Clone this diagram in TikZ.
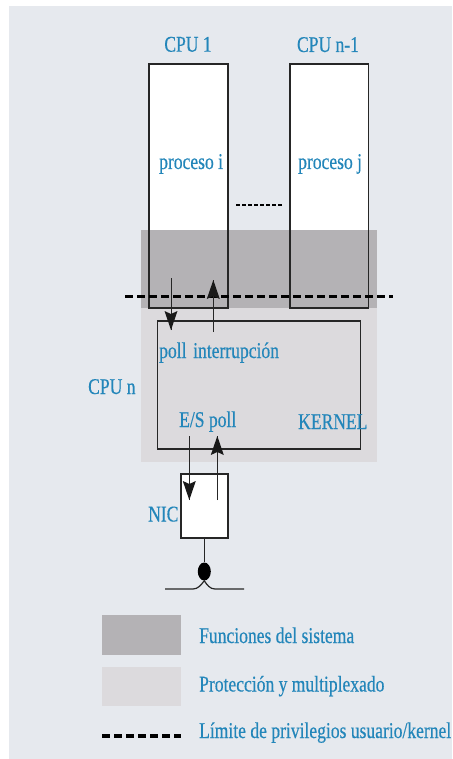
\documentclass[tikz,border=0pt]{standalone}
\usepackage{fontspec}
\setmainfont[FakeStretch=0.78,FakeBold=0.4]{Liberation Serif}
\usetikzlibrary{shapes.geometric}
\definecolor{bgc}{HTML}{E6E9EE}
\definecolor{darkg}{HTML}{B4B2B5}
\definecolor{lightg}{HTML}{DCDADD}
\definecolor{txt}{HTML}{2386BA}
\tikzset{
  lbl/.style={text=txt, inner sep=0pt, anchor=base west, font=\fontsize{22.5}{24}\selectfont},
  clbl/.style={lbl, anchor=base},
  boxn/.style={draw=black!85, line width=1.2pt, inner sep=0pt},
  arr/.style={draw=black!85, line width=1pt},
  headf/.style={fill=black!90},
  kdash/.style={line width=3.2pt, dash pattern=on 8pt off 4pt}}
\begin{document}
\begin{tikzpicture}[x=1pt,y=-1pt]
\useasboundingbox (0,0) rectangle (452,759);
\fill[bgc] (9,6) rectangle (452,759);
% white process boxes
\fill[white] (149,64) rectangle (228,308);
\fill[white] (290,64) rectangle (368.5,308);
\fill[white] (181,474) rectangle (228,538);
% shaded regions
\fill[lightg] (141,230) rectangle (377,462);
\fill[darkg] (141,230) rectangle (377,308);
% boxes
\node[boxn, minimum width=79pt, minimum height=244pt] (cpu1) at (188.5,186) {};
\node[boxn, minimum width=78.5pt, minimum height=244pt] (cpun1) at (329.25,186) {};
\node[boxn, minimum width=203.5pt, minimum height=128pt] (kernel) at (259,385) {};
\node[boxn, minimum width=47pt, minimum height=64pt] (nic) at (204.5,506) {};
% labels
\node[clbl] (l1) at (188,51.7) {CPU 1};
\node[clbl] (l2) at (328,52) {CPU n-1};
\node[lbl] (pi) at (159,169) {proceso i};
\node[lbl] (pj) at (298,169) {proceso j};
\node[lbl] (poll1) at (159,358) {poll};
\node[lbl] (intr) at (193,358) {interrupción};
\node[lbl] (cpun) at (88,394) {CPU n};
\node[lbl] (es) at (179,427) {E/S poll};
\node[lbl] (kl) at (298,429) {KERNEL};
\node[lbl] (nicl) at (148,521.5) {NIC};
% dotted ellipsis
\coordinate (d1) at (236,205);
\coordinate (d2) at (283,205);
\draw[line width=2.6pt, dash pattern=on 3.8pt off 2.2pt] (d1) -- (d2);
% privilege line
\coordinate (k1) at (125,296.7);
\coordinate (k2) at (393,296.7);
\draw[kdash] (k1) -- (k2);
% arrows upper
\coordinate (a1s) at (171,278);
\coordinate (a1e) at (171,330);
\coordinate (a2s) at (213.3,332);
\coordinate (a2e) at (213.3,280);
\draw[arr] (a1s) -- (a1e);
\fill[headf] (a1e) ++(-6.5,-19) -- (a1e) -- ++(6.5,-19) -- ++(-6.5,3) -- cycle;
\draw[arr] (a2s) -- (a2e);
\fill[headf] (a2e) ++(-6.5,19) -- (a2e) -- ++(6.5,19) -- ++(-6.5,-3) -- cycle;
% arrows lower
\coordinate (b1s) at (189.3,436);
\coordinate (b1e) at (189.3,500);
\coordinate (b2s) at (217.3,500);
\coordinate (b2e) at (217.3,436);
\draw[arr] (b1s) -- (b1e);
\fill[headf] (b1e) ++(-6.5,-19) -- (b1e) -- ++(6.5,-19) -- ++(-6.5,3) -- cycle;
\draw[arr] (b2s) -- (b2e);
\fill[headf] (b2e) ++(-6.5,19) -- (b2e) -- ++(6.5,19) -- ++(-6.5,-3) -- cycle;
% network
\node[fill=black, ellipse, minimum width=13pt, minimum height=18pt, inner sep=0pt] (tap) at (204.3,571.5) {};
\draw[black!85, line width=1.2pt] (nic.south -| tap) -- (tap.north);
\coordinate (w1) at (165,589);
\coordinate (w2) at (244,589);
\draw[black!85, line width=1.2pt] (w1) -- (193,589) .. controls (198,589) and (201,585) .. (tap.south) .. controls (207,585) and (210,589) .. (215,589) -- (w2);
% legend
\fill[darkg] (102,615) rectangle (181,655);
\fill[lightg] (102,667) rectangle (181,706);
\coordinate (ld1) at (102,736);
\coordinate (ld2) at (181,736);
\draw[kdash] (ld1) -- (ld2);
\node[lbl] (lg1) at (199,643) {Funciones del sistema};
\node[lbl] (lg2) at (199,691.5) {Protección y multiplexado};
\node[lbl] (lg3) at (199,738) {Límite de privilegios usuario/kernel};
\end{tikzpicture}
\end{document}
